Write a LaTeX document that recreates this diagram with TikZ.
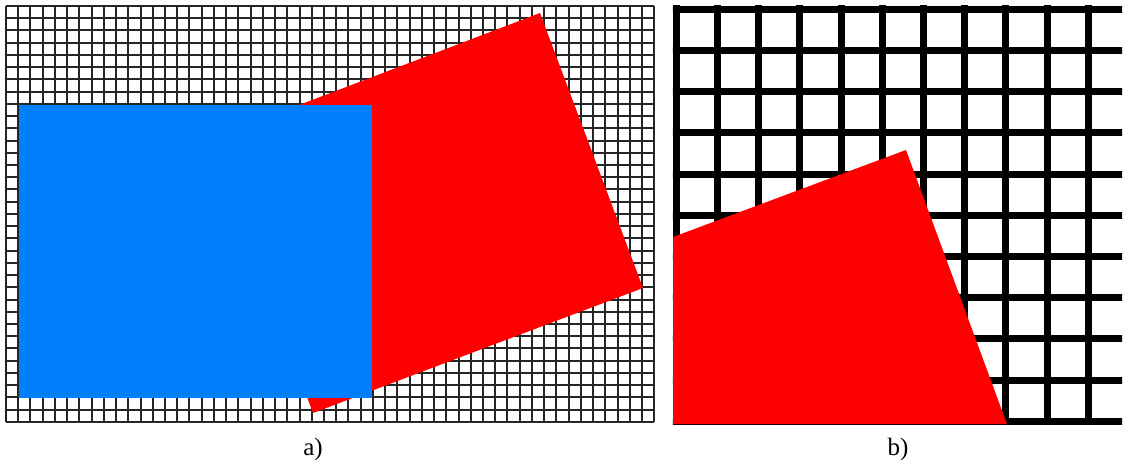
\documentclass[tikz,border=0pt]{standalone}
\usepackage{fontspec}
\setmainfont{Liberation Serif}
\usetikzlibrary{positioning}
\definecolor{patchblue}{HTML}{0080FF}
\definecolor{patchred}{HTML}{FF0000}

\begin{document}
\begin{tikzpicture}[
          x=1pt, y=-1pt,
          fineline/.style={draw=black!85, line width=2pt},
          coarseline/.style={draw=black, line width=7pt},
          bluepatch/.style={fill=patchblue},
          redpatch/.style={fill=patchred},
          caption/.style={font=\fontsize{25}{30}\selectfont, inner sep=0pt},
        ]
        \useasboundingbox[fill=white] (0,0) rectangle (1127,460);
        % a) fine grid
        \foreach \i in {0,...,53}
          \draw[fineline] (6+12.23*\i,6) -- (6+12.23*\i,421.8);
        \foreach \j in {0,...,34}
          \draw[fineline] (6,6+12.23*\j) -- (654.2,6+12.23*\j);
        \fill[redpatch] (540,13) -- (643,288) -- (313,413) -- (210,139) -- cycle;
        \fill[bluepatch] (19,105) rectangle (372,398);
        % b) zoomed grid
        \begin{scope}
          \clip (672.8,5.8) rectangle (1122,424.2);
          \foreach \i in {0,...,10}
            \draw[coarseline] (676.3+41.2*\i,0) -- (676.3+41.2*\i,430);
          \foreach \j in {0,...,10}
            \draw[coarseline] (670,9.3+41.2*\j) -- (1130,9.3+41.2*\j);
          \fill[redpatch] (673,237) -- (906,150) -- (1007,424.2) -- (673,424.2) -- cycle;
        \end{scope}
        \node[caption, anchor=base] (capa) at (313,455) {a)};
        \node[caption, anchor=base] (capb) at (898,455) {b)};
      \end{tikzpicture}
\end{document}
